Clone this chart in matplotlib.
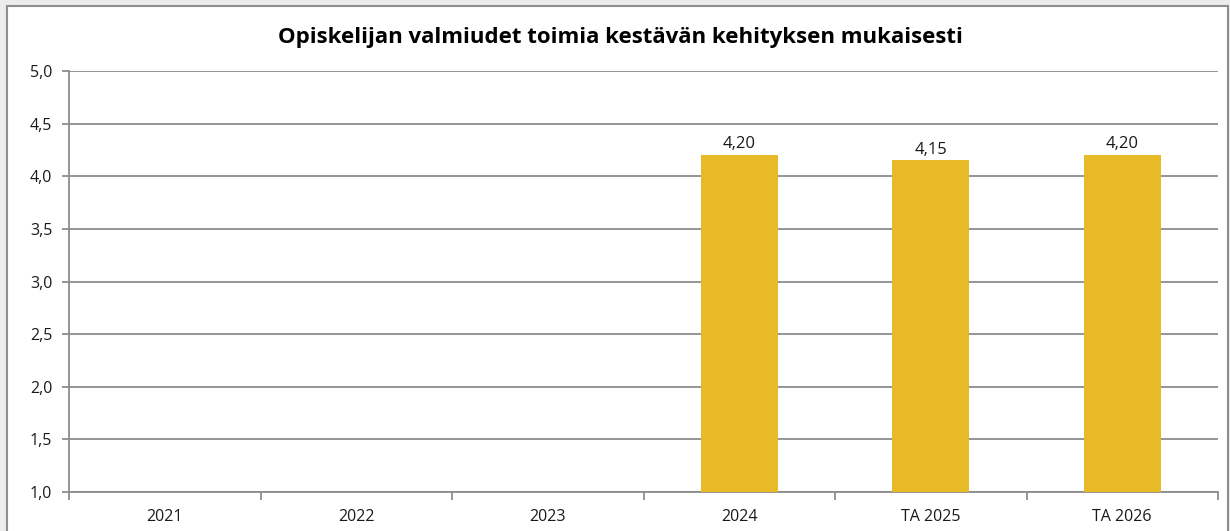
import matplotlib
matplotlib.use("Agg")
import matplotlib.pyplot as plt
import numpy as np
from matplotlib.patches import Rectangle

categories = ["2021", "2022", "2023", "2024", "TA 2025", "TA 2026"]
values = [np.nan, np.nan, np.nan, 4.20, 4.15, 4.20]
title = "Opiskelijan valmiudet toimia kestävän kehityksen mukaisesti"

plt.rcParams['font.family'] = ['Open Sans', 'DejaVu Sans']

W, H = 1230, 531
fig = plt.figure(figsize=(W/100, H/100), dpi=100)
fig.patch.set_facecolor("#EBECEE")

# chart frame
frame = Rectangle((7/W, -0.05), (1228-7)/W, (H-6)/H + 0.05, transform=fig.transFigure,
                  facecolor="white", edgecolor="#8E8E8E", linewidth=1.5, zorder=-10)
fig.patches.append(frame)

ax = fig.add_axes([69/W, 39/H, (1218-69)/W, (492-71)/H])
ax.set_zorder(5)
ax.set_facecolor("none")

x = np.arange(len(categories))
bars = ax.bar(x, values, width=0.40, bottom=0, color="#E8BA28", zorder=3)

ax.set_xlim(-0.5, len(categories) - 0.5)
ax.set_ylim(1.0, 5.0)
yt = np.arange(1.0, 5.01, 0.5)
ax.set_yticks(yt)
ax.set_yticklabels([f"{v:.1f}".replace(".", ",") for v in yt], fontsize=11.5, color="#1a1a1a")
ax.yaxis.grid(True, color="#8C8C8C", linewidth=1.3, zorder=1)
ax.set_axisbelow(True)

ax.set_xticks(x)
ax.set_xticklabels(categories, fontsize=11.5, color="#1a1a1a")
ax.tick_params(axis="x", length=0, pad=12)
ax.set_xticks(np.arange(-0.5, len(categories), 1.0), minor=True)
ax.tick_params(axis="x", which="minor", length=6, width=1.3, color="#8C8C8C")
ax.tick_params(axis="y", length=5, width=1.3, color="#8C8C8C", pad=7)

for s in ["top", "right"]:
    ax.spines[s].set_visible(False)
for s in ["left", "bottom"]:
    ax.spines[s].set_color("#8C8C8C")
    ax.spines[s].set_linewidth(1.3)

for xi, v in zip(x, values):
    if not np.isnan(v):
        ax.annotate(f"{v:.2f}".replace(".", ","), (xi, v), xytext=(0, 2),
                    textcoords="offset points", ha="center", va="bottom",
                    fontsize=12, color="#1a1a1a")

fig.text(620/W, 1 - 37/H, title, ha="center", va="center", fontsize=16,
         fontweight="bold", color="black")

fig.savefig("out.png", dpi=100, facecolor=fig.get_facecolor())
